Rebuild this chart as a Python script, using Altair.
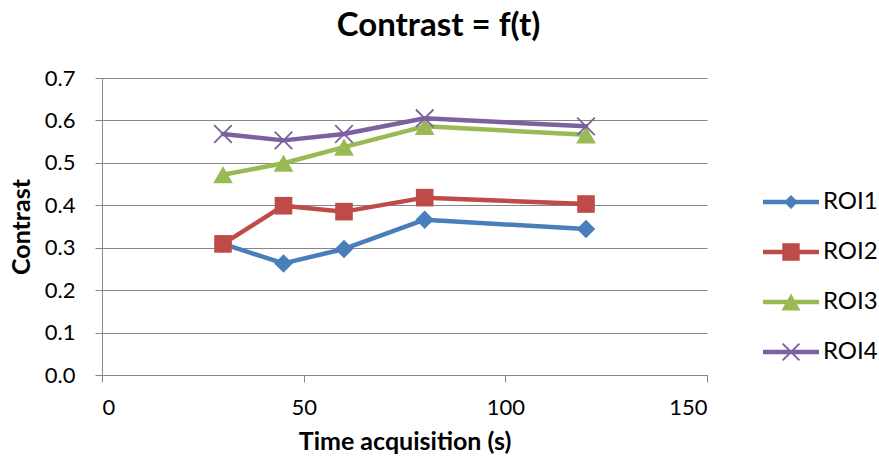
import altair as alt
import pandas as pd

# Acquisition times (s) and measured contrast per region of interest
times = [30, 45, 60, 80, 120]
roi1 = [0.309, 0.263, 0.297, 0.366, 0.344]
roi2 = [0.309, 0.399, 0.385, 0.418, 0.403]
roi3 = [0.472, 0.499, 0.537, 0.586, 0.566]
roi4 = [0.568, 0.553, 0.568, 0.605, 0.586]

series_names = ["ROI1", "ROI2", "ROI3", "ROI4"]
series_values = [roi1, roi2, roi3, roi4]
colors = ["#4A7EBB", "#BE4B48", "#98B954", "#7D60A0"]

rows = []
for name, vals in zip(series_names, series_values):
    for t, v in zip(times, vals):
        rows.append({"series": name, "t": t, "contrast": v})
df = pd.DataFrame(rows)

FONT = "Lato"

x_enc = alt.X(
    "t:Q",
    scale=alt.Scale(domain=[0, 150], nice=False, zero=False),
    axis=alt.Axis(values=[0, 50, 100, 150], title="Time acquisition (s)", grid=False),
)
y_enc = alt.Y(
    "contrast:Q",
    scale=alt.Scale(domain=[0, 0.7], nice=False),
    axis=alt.Axis(values=[0, 0.1, 0.2, 0.3, 0.4, 0.5, 0.6, 0.7], format=".1f",
                  title="Contrast", grid=True),
)

# Plot markers: diamond, square, triangle, x-cross
x_cross = "M-1,-1L1,1M-1,1L1,-1"
marker_specs = [
    dict(shape="diamond", filled=True, size=340),
    dict(shape="square", filled=True, size=310),
    dict(shape="triangle-up", filled=True, size=390),
    dict(shape=x_cross, filled=False, size=310, strokeWidth=1.8),
]

layers = []
for name, col, spec in zip(series_names, colors, marker_specs):
    base = alt.Chart(df).transform_filter(alt.datum.series == name)
    line = base.mark_line(color=col, strokeWidth=4.5, strokeJoin="round", strokeCap="round").encode(
        x=x_enc, y=y_enc
    )
    pt_kwargs = dict(shape=spec["shape"], filled=spec["filled"], size=spec["size"], opacity=1)
    if spec["filled"]:
        pt_kwargs["color"] = col
    else:
        pt_kwargs["stroke"] = col
        pt_kwargs["strokeWidth"] = spec["strokeWidth"]
    pts = base.mark_point(**pt_kwargs).encode(x=x_enc, y=y_enc)
    layers += [line, pts]

# Legend symbols: a short line segment with the series marker on top
bar = "M-1,-0.08L1,-0.08L1,0.08L-1,0.08Z"
legend_paths = [
    bar + "M0,-0.25L0.25,0L0,0.25L-0.25,0Z",
    bar + "M-0.31,-0.31L0.31,-0.31L0.31,0.31L-0.31,0.31Z",
    bar + "M0,-0.3L0.34,0.3L-0.34,0.3Z",
    bar + "M-0.275,-0.325L0.325,0.275L0.275,0.325L-0.325,-0.275Z"
        + "M-0.275,0.325L-0.325,0.275L0.275,-0.325L0.325,-0.275Z",
]

legend_layer = (
    alt.Chart(df)
    .transform_filter(alt.datum.t < 0)
    .mark_point(filled=True, opacity=1)
    .encode(
        color=alt.Color("series:N", scale=alt.Scale(domain=series_names, range=colors),
                        legend=alt.Legend(title=None)),
        shape=alt.Shape("series:N", scale=alt.Scale(domain=series_names, range=legend_paths),
                        legend=alt.Legend(title=None)),
    )
)

chart = (
    alt.layer(*layers, legend_layer)
    .properties(
        width=605,
        height=297,
        autosize=alt.AutoSizeParams(type="none"),
        padding={"left": 102, "top": 78, "right": 172, "bottom": 90},
        title=alt.Title("Contrast = f(t)", fontSize=33, font=FONT, fontWeight="bold",
                        color="black", anchor="middle", offset=24, dx=34),
    )
    .configure_view(stroke=None)
    .configure_axis(
        domainColor="#868686",
        tickColor="#868686",
        gridColor="#868686",
        domainWidth=1,
        tickWidth=1,
        gridWidth=1,
        tickSize=7,
        labelFont=FONT,
        labelFontSize=22,
        labelColor="black",
        titleFont=FONT,
        titleFontSize=25,
        titleFontWeight="bold",
        titleColor="black",
    )
    .configure_axisY(labelPadding=20, titlePadding=10)
    .configure_axisX(labelPadding=15, titlePadding=11)
    .configure_legend(
        orient="none",
        legendX=661,
        legendY=96,
        padding=0,
        symbolSize=3136,
        symbolStrokeWidth=0,
        labelFont=FONT,
        labelFontSize=24,
        labelColor="black",
        labelOffset=4,
        rowPadding=10,
    )
)

chart.save("out.html", embed_options={"renderer": "svg", "actions": False})
